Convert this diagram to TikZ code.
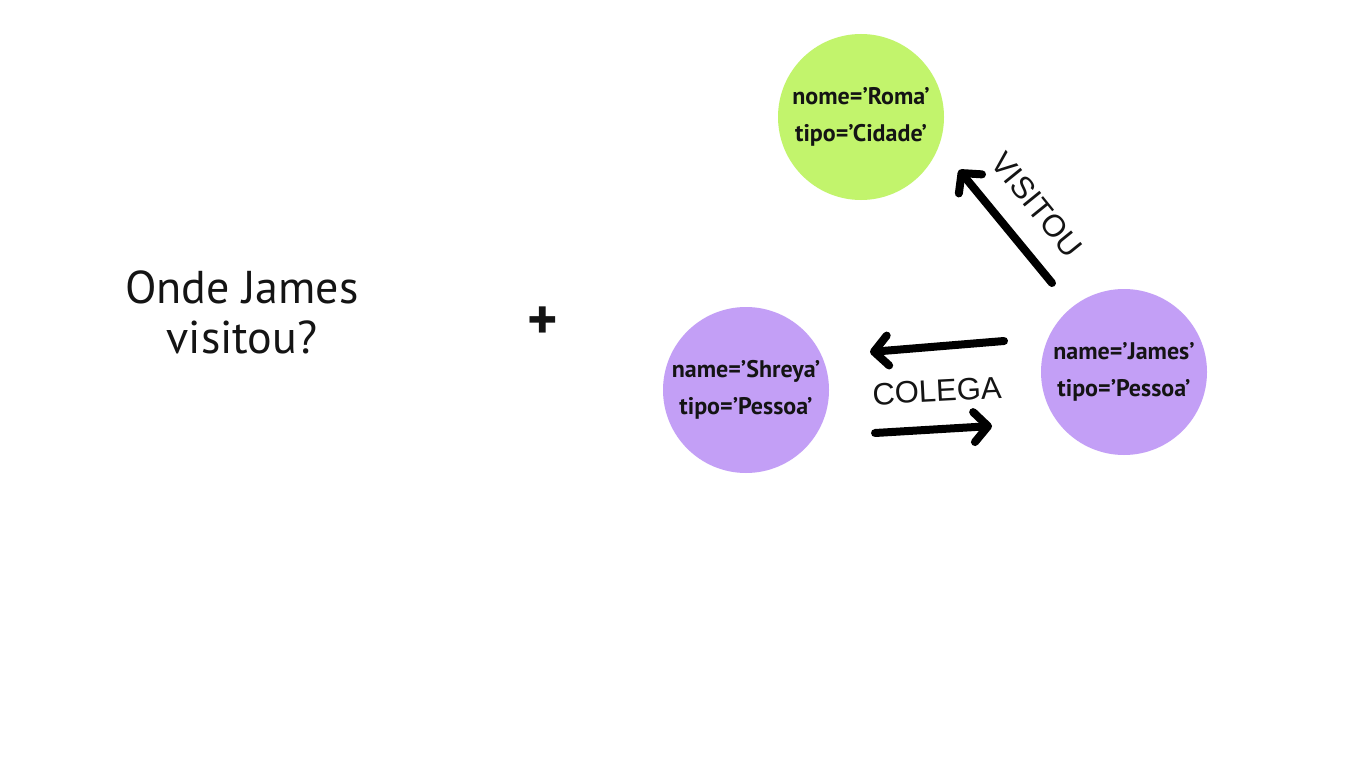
\documentclass[tikz,border=0pt]{standalone}
\usepackage{fontspec}
\setmainfont{PT Sans}
\newfontfamily\lblfont{Liberation Sans}
\usetikzlibrary{arrows.meta}
\definecolor{lime}{HTML}{C2F46C}
\definecolor{lav}{HTML}{C39FF6}
\definecolor{ink}{HTML}{141414}
\tikzset{
  ent/.style={circle, minimum size=166pt, inner sep=0pt, text=ink, align=center,
    font=\bfseries\fontsize{24}{37}\selectfont},
  rel/.style={line width=8pt, draw=black, line cap=round,
    -{Straight Barb[length=14pt, width=30pt, line width=8pt, round]}},
  lbl/.style={font=\lblfont\fontsize{31}{33}\selectfont, text=ink, inner sep=0pt}
}
\begin{document}
\begin{tikzpicture}[x=1pt,y=-1pt]
\useasboundingbox (0,0) rectangle (1365,768);
\fill[white] (0,0) rectangle (1365,768);
\node[font=\fontsize{46}{50}\selectfont, align=center, text=ink] (q) at (242,312) {Onde James\\visitou?};
\node[font=\bfseries\fontsize{58}{58}\selectfont, text=ink, inner sep=0pt] (plus) at (543,323) {+};
\node[ent, fill=lime] (roma) at (861,117) {nome='Roma'\\tipo='Cidade'};
\node[ent, fill=lav] (shreya) at (746,390) {name='Shreya'\\tipo='Pessoa'};
\node[ent, fill=lav] (james) at (1124,372) {name='James'\\tipo='Pessoa'};
\coordinate (v1) at (1052,283);
\coordinate (v2) at (959,170);
\coordinate (c1) at (1004,341);
\coordinate (c2) at (870,352);
\coordinate (c3) at (875,433);
\coordinate (c4) at (992,426);
\draw[rel] (v1) -- (v2);
\draw[rel] (c1) -- (c2);
\draw[rel] (c3) -- (c4);
\node[lbl, rotate=-51] (vis) at (1037,205) {VISITOU};
\node[lbl, rotate=3] (col) at (937,391) {COLEGA};
\end{tikzpicture}
\end{document}
